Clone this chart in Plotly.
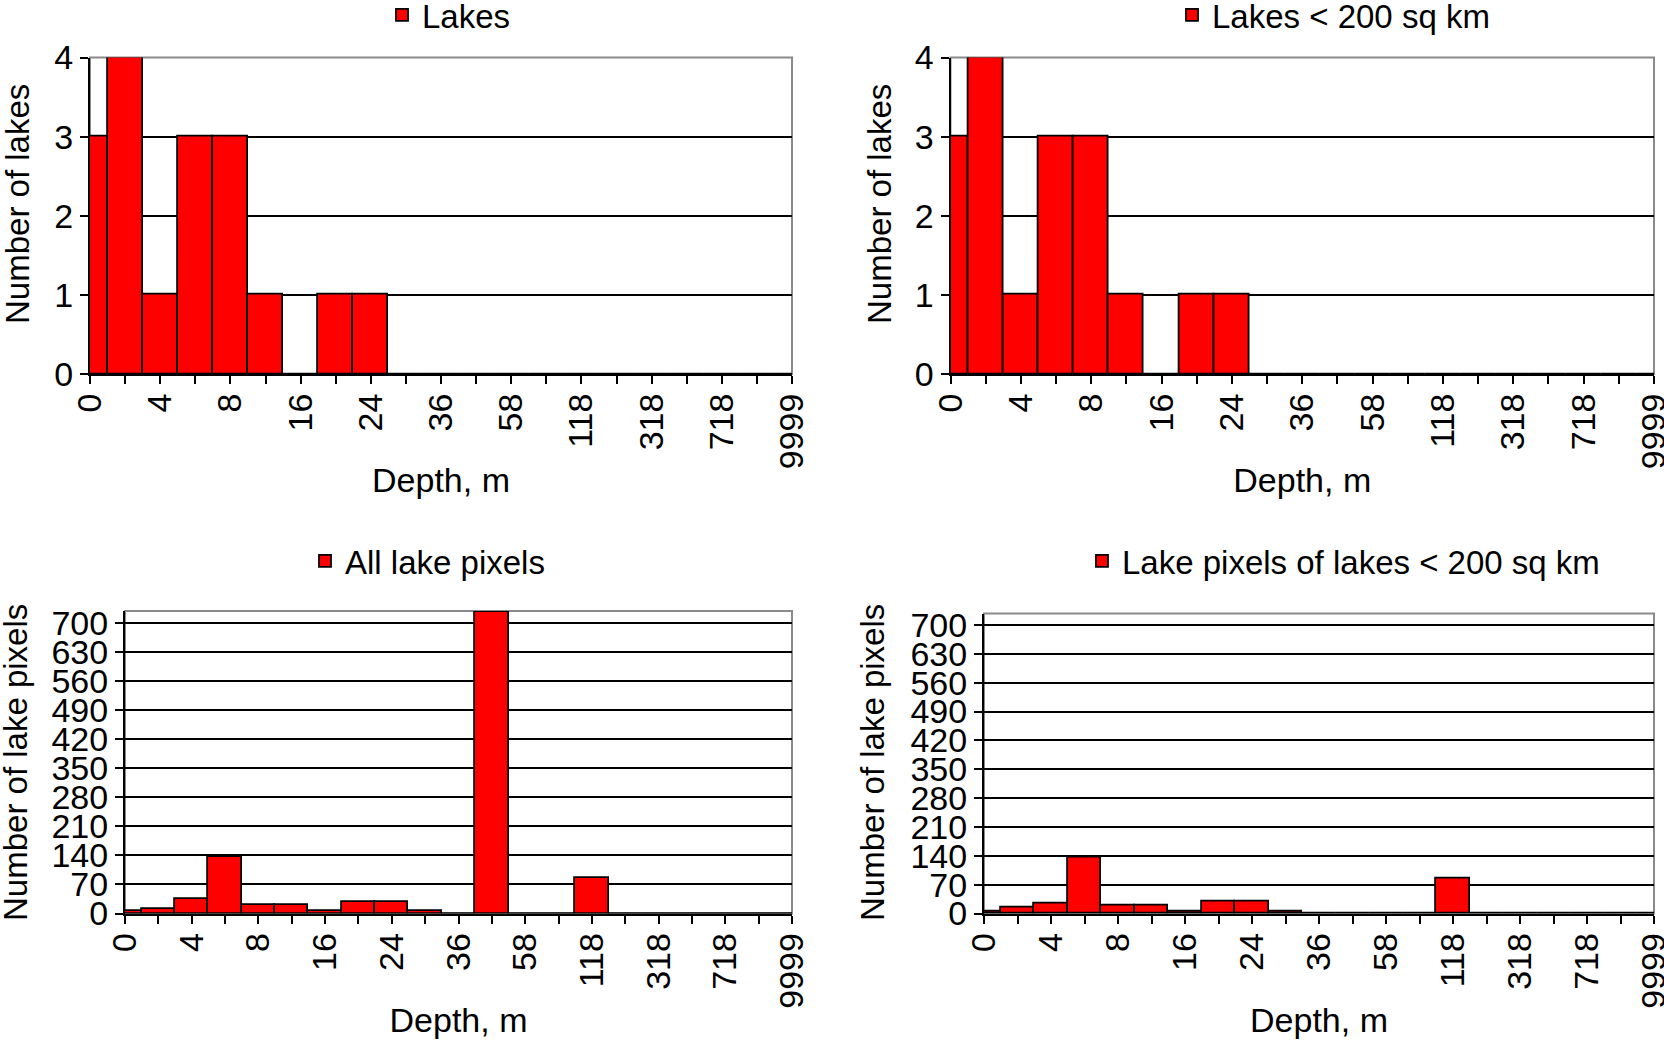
import plotly.graph_objects as go

# ---- data ----
depth_bins = ["0", "2", "4", "6", "8", "12", "16", "20", "24", "30", "36",
              "48", "58", "88", "118", "218", "318", "518", "718", "1000", "9999"]
shown_labels = ["0", "4", "8", "16", "24", "36", "58", "118", "318", "718", "9999"]

lakes = [3, 4, 1, 3, 3, 1, 0, 1, 1, 0, 0, 0, 0, 0, 0, 0, 0, 0, 0, 0, 0]
lakes_small = [3, 4, 1, 3, 3, 1, 0, 1, 1, 0, 0, 0, 0, 0, 0, 0, 0, 0, 0, 0, 0]
pixels_all = [6, 12, 34, 137, 20, 20, 7, 28, 28, 6, 0, 726, 0, 0, 85, 0, 0, 0, 0, 0, 0]
pixels_small = [6, 14, 25, 136, 19, 20, 6, 28, 28, 6, 0, 0, 0, 0, 85, 0, 0, 0, 0, 0, 0]

series_names = ["Lakes", "Lakes < 200 sq km", "All lake pixels",
                "Lake pixels of lakes < 200 sq km"]
y_titles = ["Number of lakes", "Number of lakes", "Number of lake pixels",
            "Number of lake pixels"]
x_title = "Depth, m"

ticktext = [lbl if lbl in shown_labels else "" for lbl in depth_bins]

FONT = "Liberation Sans, Arial, Helvetica, sans-serif"
W, H = 1664, 1042
TICK_SIZE = 34
TITLE_SIZE = 34
LEG_SIZE = 33

fig = go.Figure()

values = [lakes, lakes_small, pixels_all, pixels_small]
legends = ["legend", "legend2", "legend3", "legend4"]
for i, (vals, name) in enumerate(zip(values, series_names)):
    sfx = "" if i == 0 else str(i + 1)
    fig.add_trace(go.Bar(
        x=depth_bins, y=vals, name=name,
        xaxis="x" + sfx, yaxis="y" + sfx,
        marker=dict(color="#ff0000", line=dict(color="black", width=1.8)),
        showlegend=True, legend=legends[i],
    ))

# pixel geometry -> paper coords
def px_x(x):
    return x / W

def px_y(y):
    return (H - y) / H

x_domains = [[px_x(90), px_x(792)], [px_x(950.5), px_x(1654)],
             [px_x(125), px_x(792)], [px_x(984), px_x(1654)]]
y_domains = [[px_y(374), px_y(57.5)], [px_y(374), px_y(57.5)],
             [px_y(913.5), px_y(611)], [px_y(913.5), px_y(613.5)]]
y_ranges = [[0, 4], [0, 4], [0, 728], [0, 728]]
y_dticks = [1, 1, 70, 70]

layout = dict(
    width=W, height=H,
    margin=dict(l=0, r=0, t=0, b=0, autoexpand=False),
    paper_bgcolor="white", plot_bgcolor="white",
    font=dict(family=FONT, size=TICK_SIZE, color="black"),
    bargap=0,
    showlegend=True,
)

for i in range(4):
    sfx = "" if i == 0 else str(i + 1)
    layout["xaxis" + sfx] = dict(
        domain=x_domains[i], anchor="y" + sfx, type="category",
        range=[0, 20], tickmode="array", tickvals=depth_bins, ticktext=ticktext,
        tickangle=-90, ticks="outside", ticklen=8, tickwidth=2, tickcolor="black",
        ticklabelstandoff=-4,
        showline=True, linecolor="black", linewidth=2, showgrid=False,
        zeroline=False, tickfont=dict(size=TICK_SIZE), automargin=False,
        title=dict(text=x_title, font=dict(size=TITLE_SIZE), standoff=0),
    )
    layout["yaxis" + sfx] = dict(
        domain=y_domains[i], anchor="x" + sfx, range=y_ranges[i],
        tick0=0, dtick=y_dticks[i], ticks="outside", ticklen=8, tickwidth=2,
        tickcolor="black", showline=True, linecolor="black", linewidth=2,
        showgrid=True, gridcolor="black", gridwidth=2, zeroline=False,
        tickfont=dict(size=TICK_SIZE), automargin=False,
    )

legend_pos = [(382, 15), (1172, 15), (305, 561), (1082, 561)]
for i, (px, py) in enumerate(legend_pos):
    layout[legends[i]] = dict(
        x=px_x(px), y=px_y(py), xanchor="left", yanchor="middle",
        bgcolor="rgba(0,0,0,0)", font=dict(size=LEG_SIZE, family=FONT),
        itemclick=False, itemdoubleclick=False,
    )

fig.update_layout(**layout)

# plot-area borders (grey top/right like the original)
for i in range(4):
    sfx = "" if i == 0 else str(i + 1)
    fig.add_shape(type="rect", xref="x" + sfx + " domain", yref="y" + sfx + " domain",
                  x0=0, x1=1, y0=0, y1=1, line=dict(color="#8a8a8a", width=2),
                  layer="below")

# y-axis titles
ytitle_pos = [(17, 204), (879, 204), (15, 763), (872, 763)]
for (px, py), txt in zip(ytitle_pos, y_titles):
    fig.add_annotation(x=px_x(px), y=px_y(py), xref="paper", yref="paper",
                       text=txt, textangle=-90, showarrow=False,
                       xanchor="center", yanchor="middle",
                       font=dict(size=33, family=FONT, color="black"))

fig.write_html(
    "out.html",
    config={"displayModeBar": False},
    post_script="document.body.style.margin='0px';document.body.style.overflow='hidden';",
)
